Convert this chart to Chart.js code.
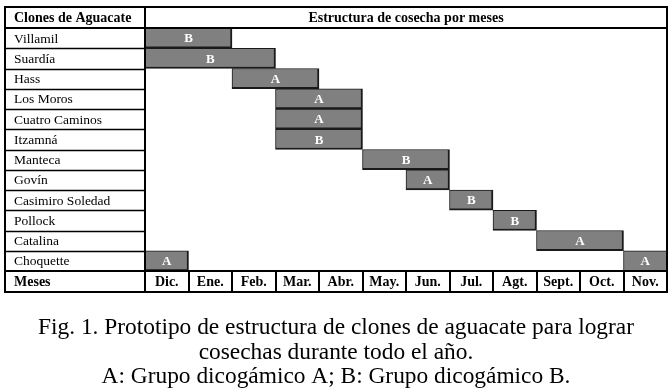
<!DOCTYPE html>
<html>
<head>
<meta charset="utf-8">
<script src="https://cdn.jsdelivr.net/npm/chart.js@4/dist/chart.umd.min.js"></script>
<style>
  html, body { margin: 0; padding: 0; background: #fff; }
  #wrap { width: 672px; height: 392px; position: relative; }
</style>
</head>
<body>
<div id="wrap"><canvas id="chart"></canvas></div>
<script>
// Clones (rows, top to bottom)
const clones = ['Villamil', 'Suardía', 'Hass', 'Los Moros', 'Cuatro Caminos', 'Itzamná',
    'Manteca', 'Govín', 'Casimiro Soledad', 'Pollock', 'Catalina', 'Choquette'];

// Month columns (Dic. = 0 ... Nov. = 11)
const months = ['Dic.', 'Ene.', 'Feb.', 'Mar.', 'Abr.', 'May.', 'Jun.', 'Jul.', 'Agt.', 'Sept.', 'Oct.', 'Nov.'];

// Harvest period [first month index, end month index]
const harvest = [[0, 2], [0, 3], [2, 4], [3, 5], [3, 5], [3, 5], [5, 7], [6, 7], [7, 8], [8, 9], [9, 11], [0, 1]];
// Dichogamous group of each clone
const groups = ['B', 'B', 'A', 'A', 'A', 'B', 'B', 'A', 'B', 'B', 'A', 'A'];

// Second harvest period (only Choquette wraps around to Nov.)
const harvest2 = [null, null, null, null, null, null, null, null, null, null, null, [11, 12]];
const groups2 = ['', '', '', '', '', '', '', '', '', '', '', 'A'];

const caption = [
    'Fig. 1. Prototipo de estructura de clones de aguacate para lograr',
    'cosechas durante todo el año.',
    'A: Grupo dicogámico A; B: Grupo dicogámico B.'
];

const SERIF = '"Liberation Serif", "Times New Roman", serif';
const TABLE = { left: 5, top: 7, bottom: 292 };

const tablePlugin = {
    id: 'tablePlugin',
    afterDatasetsDraw(chart) {
        const ctx = chart.ctx;
        const area = chart.chartArea;
        const x = chart.scales.x;
        const y = chart.scales.y;
        const rowH = (area.bottom - area.top) / clones.length;

        ctx.save();
        ctx.strokeStyle = '#000';

        // bar labels (group A / B)
        ctx.fillStyle = '#fff';
        ctx.font = 'bold 13px ' + SERIF;
        ctx.textAlign = 'center';
        ctx.textBaseline = 'middle';
        [groups, groups2].forEach((g, di) => {
            const meta = chart.getDatasetMeta(di);
            meta.data.forEach((bar, i) => {
                if (!g[i]) return;
                ctx.fillText(g[i], (bar.x + bar.base) / 2, bar.y + 1);
            });
        });

        // left column row lines
        ctx.lineWidth = 1.5;
        for (let i = 1; i < clones.length; i++) {
            const yy = Math.round(area.top + i * rowH) + 0.5;
            ctx.beginPath();
            ctx.moveTo(TABLE.left, yy);
            ctx.lineTo(area.left, yy);
            ctx.stroke();
        }

        // thick lines: header bottom, months row top, column separator, outer border
        ctx.lineWidth = 2;
        ctx.beginPath();
        ctx.moveTo(TABLE.left, area.top);
        ctx.lineTo(area.right, area.top);
        ctx.moveTo(TABLE.left, area.bottom);
        ctx.lineTo(area.right, area.bottom);
        ctx.moveTo(area.left, TABLE.top);
        ctx.lineTo(area.left, TABLE.bottom);
        ctx.stroke();
        ctx.strokeRect(TABLE.left, TABLE.top, area.right - TABLE.left, TABLE.bottom - TABLE.top);

        // month separators in bottom row
        for (let m = 1; m < months.length; m++) {
            const xx = Math.round(x.getPixelForValue(m));
            ctx.beginPath();
            ctx.moveTo(xx, area.bottom);
            ctx.lineTo(xx, TABLE.bottom);
            ctx.stroke();
        }

        // header texts
        ctx.fillStyle = '#000';
        ctx.font = 'bold 14px ' + SERIF;
        ctx.textAlign = 'left';
        ctx.fillText('Clones de Aguacate', 14, (TABLE.top + area.top) / 2 + 1);
        ctx.fillText('Meses', 14, (area.bottom + TABLE.bottom) / 2 + 1);
        ctx.textAlign = 'center';
        ctx.fillText('Estructura de cosecha por meses', (area.left + area.right) / 2, (TABLE.top + area.top) / 2 + 1);

        // month labels
        months.forEach((m, i) => {
            ctx.fillText(m, x.getPixelForValue(i + 0.5), (area.bottom + TABLE.bottom) / 2 + 1);
        });

        // clone names
        ctx.font = '13.5px ' + SERIF;
        ctx.textAlign = 'left';
        clones.forEach((c, i) => {
            ctx.fillText(c, 14, y.getPixelForValue(i) + 1);
        });

        // caption, slightly condensed serif
        ctx.font = '24px ' + SERIF;
        ctx.textAlign = 'center';
        ctx.textBaseline = 'alphabetic';
        const sx = 596 / ctx.measureText(caption[0]).width;
        caption.forEach((line, i) => {
            ctx.save();
            ctx.translate(chart.width / 2, 334 + i * 24.5);
            ctx.scale(sx, 1);
            ctx.fillText(line, 0, 0);
            ctx.restore();
        });

        ctx.restore();
    }
};

const ctx = document.getElementById('chart').getContext('2d');
new Chart(ctx, {
    type: 'bar',
    data: {
        labels: clones,
        datasets: [{
            data: harvest,
            backgroundColor: '#808080',
            borderColor: '#1a1a1a',
            borderWidth: { top: 1, left: 1, right: 2, bottom: 2 },
            borderSkipped: false,
            barPercentage: 1,
            categoryPercentage: 1,
            grouped: false
        }, {
            data: harvest2,
            backgroundColor: '#808080',
            borderColor: '#1a1a1a',
            borderWidth: { top: 1, left: 1, right: 0, bottom: 0 },
            borderSkipped: false,
            barPercentage: 1,
            categoryPercentage: 1,
            grouped: false
        }]
    },
    options: {
        indexAxis: 'y',
        responsive: true,
        maintainAspectRatio: false,
        animation: false,
        layout: {
            padding: { left: 145, right: 5, top: 28, bottom: 121 }
        },
        plugins: {
            legend: { display: false },
            tooltip: { enabled: false }
        },
        scales: {
            x: { type: 'linear', min: 0, max: 12, display: false },
            y: { type: 'category', display: false, offset: true }
        }
    },
    plugins: [tablePlugin]
});
</script>
</body>
</html>
